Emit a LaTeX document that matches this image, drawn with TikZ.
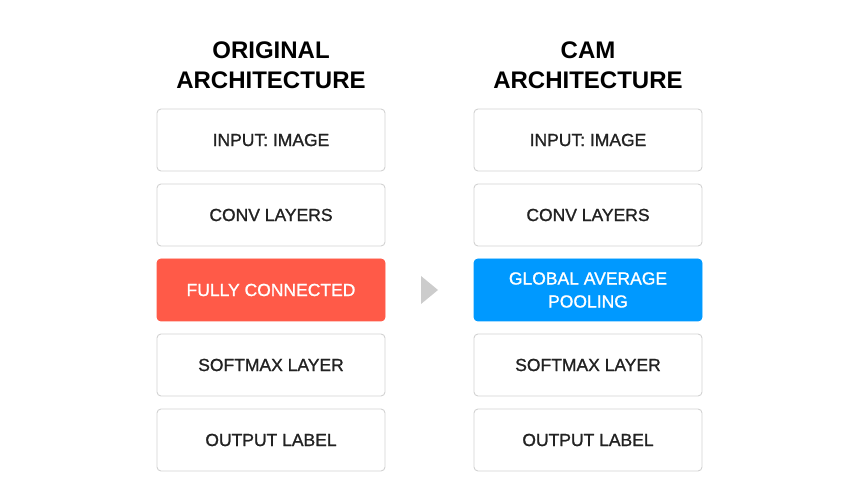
\documentclass[tikz,border=0pt]{standalone}
\usepackage{fontspec}
\setmainfont{Liberation Sans}
\newfontfamily\boxfont[FakeBold=1.1]{Liberation Sans}
\usetikzlibrary{positioning,calc}

\definecolor{boxgray}{HTML}{D2D2D2}
\definecolor{txtgray}{HTML}{222222}
\definecolor{fcred}{HTML}{FF5A48}
\definecolor{gapblue}{HTML}{0099FF}
\definecolor{arrowgray}{HTML}{CCCCCC}

\begin{document}
\begin{tikzpicture}[x=1pt,y=-1pt,
  layer/.style={draw=boxgray,line width=0.9pt,fill=white,rounded corners=4pt,
    minimum width=228pt,minimum height=62pt,inner sep=0pt,outer sep=0pt,
    align=center,text=txtgray,font=\boxfont\fontsize{17.5}{23}\selectfont},
  hot/.style={layer,draw=#1,fill=#1,text=white},
  title/.style={align=center,font=\fontsize{24}{30}\selectfont\bfseries},
  node distance=13pt]
  \useasboundingbox (0,0) rectangle (868,502);
  % titles
  \node[title] (tl) at (271,65) {ORIGINAL\\ARCHITECTURE};
  \node[title] (tr) at (588,65) {CAM\\ARCHITECTURE};
  % original architecture
  \node[layer] (in1) at (271,140) {INPUT: IMAGE};
  \node[layer,below=of in1] (cv1) {CONV LAYERS};
  \node[hot=fcred,below=of cv1] (fc) {FULLY CONNECTED};
  \node[layer,below=of fc] (sm1) {SOFTMAX LAYER};
  \node[layer,below=of sm1] (out1) {OUTPUT LABEL};
  % cam architecture
  \node[layer] (in2) at (588,140) {INPUT: IMAGE};
  \node[layer,below=of in2] (cv2) {CONV LAYERS};
  \node[hot=gapblue,below=of cv2] (gap) {GLOBAL AVERAGE\\POOLING};
  \node[layer,below=of gap] (sm2) {SOFTMAX LAYER};
  \node[layer,below=of sm2] (out2) {OUTPUT LABEL};
  % arrow between
  \coordinate (mid) at ($(fc.east)!0.5!(gap.west)$);
  \fill[arrowgray] ([xshift=-8.5pt,yshift=14pt]mid) -- ([xshift=8.5pt]mid)
    -- ([xshift=-8.5pt,yshift=-14pt]mid) -- cycle;
\end{tikzpicture}
\end{document}
